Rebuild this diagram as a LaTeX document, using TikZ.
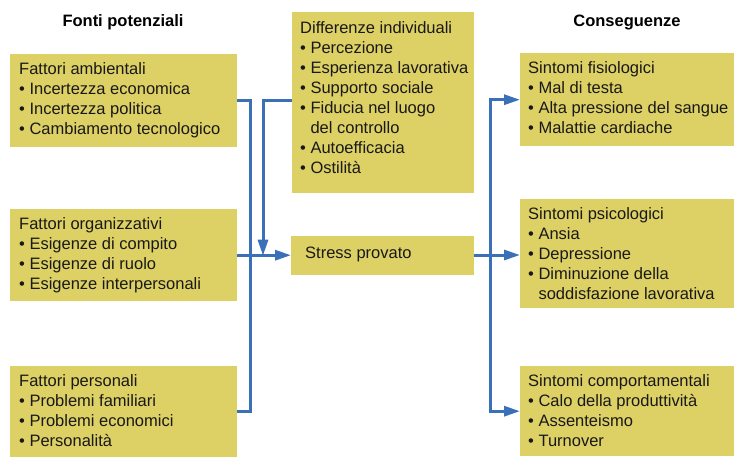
\documentclass[tikz,border=0pt]{standalone}
\usepackage{fontspec}
\setmainfont{Liberation Sans}
\usetikzlibrary{arrows.meta,calc}
\definecolor{boxyellow}{HTML}{DDD064}
\definecolor{linkblue}{HTML}{3A70B8}
\tikzset{
  box/.style={rectangle, fill=boxyellow, draw=none, anchor=north west, inner sep=0pt},
  txt/.style={anchor=north west, inner sep=0pt, align=left, text=black!90,
    font=\fontsize{16.5}{20}\selectfont},
  head/.style={inner sep=0pt, font=\fontsize{16.5}{20}\selectfont\bfseries},
  line/.style={draw=linkblue, line width=3pt},
  arrow/.style={line, -{Triangle[length=16pt,width=10pt]}}
}
\newcommand{\bl}{\textbullet\ }
\newcommand{\ind}{\phantom{\textbullet\ }}
\begin{document}
\begin{tikzpicture}[x=1pt,y=-1pt]
\useasboundingbox (0,0) rectangle (742,467);
% headers
\node[head] (h1) at (123,22) {Fonti potenziali};
\node[head] (h2) at (627,22) {Conseguenze};
% boxes
\node[box, minimum width=227pt, minimum height=93pt] (amb) at (10,54) {};
\node[box, minimum width=227pt, minimum height=92pt] (org) at (10,209) {};
\node[box, minimum width=227pt, minimum height=91pt] (pers) at (10,366) {};
\node[box, minimum width=182pt, minimum height=181pt] (diff) at (292,12) {};
\node[box, minimum width=183pt, minimum height=39pt] (stress) at (291,236) {};
\node[box, minimum width=214pt, minimum height=93pt] (fis) at (520,53) {};
\node[box, minimum width=214pt, minimum height=109pt] (psi) at (520,199) {};
\node[box, minimum width=214pt, minimum height=90pt] (comp) at (520,366) {};
% texts
\node[txt] (tamb) at (19,60) {\strut Fattori ambientali\\\bl Incertezza economica\\\bl Incertezza politica\\\bl Cambiamento tecnologico};
\node[txt] (torg) at (19,215) {\strut Fattori organizzativi\\\bl Esigenze di compito\\\bl Esigenze di ruolo\\\bl Esigenze interpersonali};
\node[txt] (tpers) at (19,372) {\strut Fattori personali\\\bl Problemi familiari\\\bl Problemi economici\\\bl Personalit\`a};
\node[txt] (tdiff) at (300,19) {\strut Differenze individuali\\\bl Percezione\\\bl Esperienza lavorativa\\\bl Supporto sociale\\\bl Fiducia nel luogo\\\ind del controllo\\\bl Autoefficacia\\\bl Ostilit\`a};
\node[txt] (tstress) at (305,244) {\strut Stress provato};
\node[txt] (tfis) at (528,59) {\strut Sintomi fisiologici\\\bl Mal di testa\\\bl Alta pressione del sangue\\\bl Malattie cardiache};
\node[txt] (tpsi) at (528,205) {\strut Sintomi psicologici\\\bl Ansia\\\bl Depressione\\\bl Diminuzione della\\\ind soddisfazione lavorativa};
\node[txt] (tcomp) at (528,372) {\strut Sintomi comportamentali\\\bl Calo della produttivit\`a\\\bl Assenteismo\\\bl Turnover};
% connectors
\coordinate (lbus) at (250,255);
\draw[line] (amb.east) -| (lbus) |- (pers.east);
\draw[arrow] (org.east) -- (org.east -| stress.west);
\coordinate (dturn) at (263,100);
\draw[arrow] (dturn -| diff.west) -- (dturn) -- (dturn |- stress.west);
\coordinate (rbus) at (490,255);
\draw[line] (stress.east) -- (stress.east -| rbus);
\draw[arrow] (rbus) |- (fis.west);
\draw[arrow] (rbus) -- (rbus -| psi.west);
\draw[arrow] (rbus) |- (comp.west);
\end{tikzpicture}
\end{document}
